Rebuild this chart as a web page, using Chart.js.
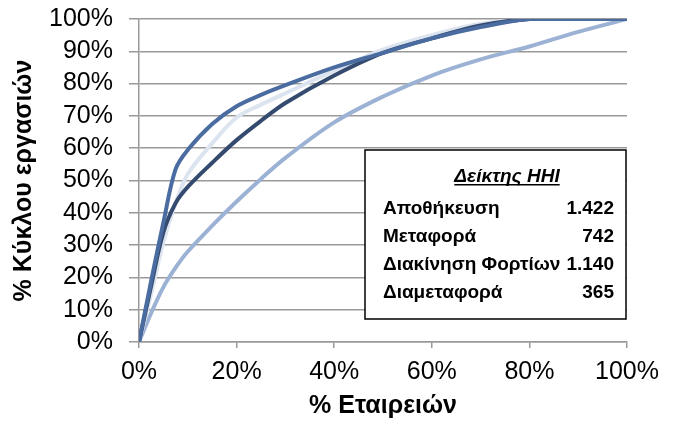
<!DOCTYPE html>
<html>
<head>
<meta charset="utf-8">
<script src="https://cdn.jsdelivr.net/npm/chart.js@4.4.1/dist/chart.umd.min.js"></script>
<style>
  html, body { margin: 0; padding: 0; background: #fff; }
  #wrap { width: 677px; height: 427px; }
</style>
</head>
<body>
<div id="wrap"><canvas id="chart" width="677" height="427"></canvas></div>
<script>
// % of firms (x) and cumulative % of turnover (y) for each sector
const firmShare   = [0, 2.5, 5, 7.5, 10, 15, 20, 25, 30, 40, 50, 60, 70, 80, 90, 100];
const storage     = [0, 19, 37, 53.5, 59.5, 67.5, 73, 76.5, 79.5, 85, 89.5, 94, 97.5, 100, 100, 100];
const transport   = [0, 17.5, 34, 43, 48, 55.5, 62.5, 68.5, 74, 82.5, 89.5, 94, 98, 100, 100, 100];
const cargo       = [0, 15, 31, 43, 52, 61.5, 69.5, 73.5, 77, 84, 90.5, 95, 98.5, 100, 100, 100];
const forwarding  = [0, 9, 17, 23, 28, 36, 43.5, 50.5, 57, 68, 76, 82.5, 87.5, 91.5, 96, 100];

// HHI box contents
const hhiTitle  = 'Δείκτης HHI';
const hhiLabels = ['Αποθήκευση', 'Μεταφορά', 'Διακίνηση Φορτίων', 'Διαμεταφορά'];
const hhiValues = ['1.422', '742', '1.140', '365'];

const xTitle = '% Εταιρειών';
const yTitle = '% Κύκλου εργασιών';

const toPoints = (ys) => ys.map((y, i) => ({ x: firmShare[i], y: y }));

// Draws the boxed HHI table inside the plot
const hhiBox = {
    id: 'hhiBox',
    afterDatasetsDraw(chart) {
        const ctx = chart.ctx;
        const left = 365, top = 150, right = 626, bottom = 319;
        ctx.save();
        ctx.fillStyle = '#ffffff';
        ctx.fillRect(left, top, right - left, bottom - top);
        ctx.strokeStyle = '#000000';
        ctx.lineWidth = 1.5;
        ctx.strokeRect(left, top, right - left, bottom - top);

        ctx.fillStyle = '#000000';
        ctx.textBaseline = 'alphabetic';
        ctx.font = 'italic bold 19px "Liberation Sans", Arial, sans-serif';
        ctx.textAlign = 'center';
        const tx = 507, ty = 182;
        ctx.fillText(hhiTitle, tx, ty);
        const tw = ctx.measureText(hhiTitle).width;
        ctx.fillRect(tx - tw / 2, ty + 2, tw, 1.5);

        ctx.font = 'bold 19px "Liberation Sans", Arial, sans-serif';
        hhiLabels.forEach((label, i) => {
            const y = 214 + i * 28;
            ctx.textAlign = 'left';
            ctx.fillText(label, 383, y);
            ctx.textAlign = 'right';
            ctx.fillText(hhiValues[i], 614, y);
        });
        ctx.restore();
    }
};

const line = (label, data, color) => ({
    label: label,
    data: toPoints(data),
    borderColor: color,
    backgroundColor: color,
    borderWidth: 4,
    pointRadius: 0,
    tension: 0.35,
    fill: false
});

const gridColor = '#999999';

new Chart(document.getElementById('chart'), {
    type: 'line',
    data: {
        datasets: [
            line('Αποθήκευση', storage, '#4A6CA0'),
            line('Μεταφορά', transport, '#344A6E'),
            line('Διακίνηση Φορτίων', cargo, '#DCE4F0'),
            line('Διαμεταφορά', forwarding, '#9CB2D4')
        ]
    },
    options: {
        responsive: false,
        animation: false,
        layout: { padding: { top: 19, right: 50, bottom: 0, left: 0 } },
        plugins: {
            legend: { display: false },
            tooltip: { enabled: false }
        },
        scales: {
            x: {
                type: 'linear',
                min: 0,
                max: 100,
                afterFit: (scale) => {
                    scale.height = 85;
                    scale.paddingLeft = 0;
                    scale.paddingRight = 0;
                },
                grid: { drawOnChartArea: false, drawTicks: true, tickLength: 6, color: gridColor, lineWidth: 1.5 },
                border: { color: gridColor, width: 1.5 },
                ticks: {
                    stepSize: 20,
                    padding: 9,
                    maxRotation: 0,
                    autoSkip: false,
                    color: '#000',
                    font: { family: '"Liberation Sans", Arial, sans-serif', size: 25 },
                    callback: (v) => v + '%'
                },
                title: {
                    display: true,
                    text: xTitle,
                    color: '#000',
                    padding: { top: 0, bottom: 6 },
                    font: { family: '"Liberation Sans", Arial, sans-serif', size: 25, weight: 'bold' }
                }
            },
            y: {
                min: 0,
                max: 100,
                afterFit: (scale) => {
                    scale.width = 139;
                    scale.paddingTop = 0;
                    scale.paddingBottom = 0;
                },
                grid: { color: gridColor, lineWidth: 1.5, tickLength: 10 },
                border: { color: gridColor, width: 1.5 },
                ticks: {
                    stepSize: 10,
                    padding: 16,
                    autoSkip: false,
                    color: '#000',
                    font: { family: '"Liberation Sans", Arial, sans-serif', size: 25 },
                    callback: (v) => v + '%'
                },
                title: {
                    display: true,
                    text: yTitle,
                    color: '#000',
                    padding: { top: 9, bottom: 0 },
                    font: { family: '"Liberation Sans", Arial, sans-serif', size: 25, weight: 'bold' }
                }
            }
        }
    },
    plugins: [hhiBox]
});
</script>
</body>
</html>
